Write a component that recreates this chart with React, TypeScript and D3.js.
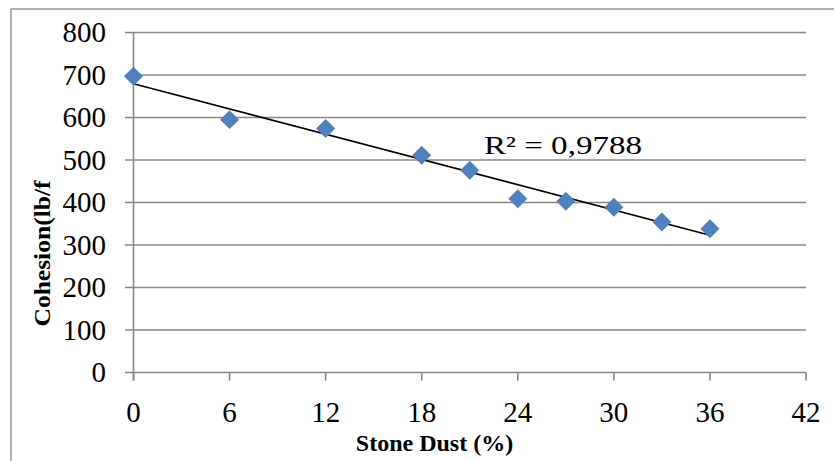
import React from "react";
import * as d3 from "d3";

const stoneDust = [0, 6, 12, 18, 21, 24, 27, 30, 33, 36];
const cohesion = [697, 595, 574, 511, 476, 409, 403, 389, 354, 338];
const xTicks = [0, 6, 12, 18, 24, 30, 36, 42];
const yTicks = [0, 100, 200, 300, 400, 500, 600, 700, 800];
const r2Label = "R² = 0,9788";

export default function App() {
  const W = 834, H = 461;
  const x = d3.scaleLinear().domain([0, 42]).range([133.5, 806]);
  const y = d3.scaleLinear().domain([0, 800]).range([372.5, 32.5]);

  const n = stoneDust.length;
  const mx = d3.mean(stoneDust)!;
  const my = d3.mean(cohesion)!;
  let sxy = 0, sxx = 0;
  for (let i = 0; i < n; i++) {
    sxy += (stoneDust[i] - mx) * (cohesion[i] - my);
    sxx += (stoneDust[i] - mx) ** 2;
  }
  const slope = sxy / sxx;
  const icpt = my - slope * mx;
  const x0 = d3.min(stoneDust)!, x1 = d3.max(stoneDust)!;
  const line = d3.line<[number, number]>().x(d => x(d[0])).y(d => y(d[1]));
  const trend = line([[x0, icpt + slope * x0], [x1, icpt + slope * x1]]) || "";

  const diamond = d3.symbol().type(d3.symbolDiamond2).size(230)() || "";
  const grid = "#878787";

  return (
    <svg width={W} height={H} style={{ position: "absolute", left: 0, top: 0, display: "block" }}
      fontFamily="'Liberation Serif', 'Times New Roman', serif">
      <rect x={0} y={0} width={W} height={H} fill="#fff" />
      <rect x={11} y={9} width={W} height={H} fill="none" stroke={grid} strokeWidth={1.3} />
      {yTicks.map(t => (
        <g key={"y" + t}>
          <line x1={125} x2={x(42)} y1={y(t)} y2={y(t)} stroke={grid} strokeWidth={1.6} />
          <text x={106} y={y(t) + 9.5} textAnchor="end" fontSize={29}>{t}</text>
        </g>
      ))}
      <line x1={x(0)} x2={x(0)} y1={y(800)} y2={y(0) + 8} stroke={grid} strokeWidth={1.6} />
      {xTicks.map(t => (
        <g key={"x" + t}>
          <line x1={x(t)} x2={x(t)} y1={y(0)} y2={y(0) + 8} stroke={grid} strokeWidth={1.6} />
          <text x={x(t)} y={421.5} textAnchor="middle" fontSize={29}>{t}</text>
        </g>
      ))}
      <path d={trend} stroke="#000" strokeWidth={1.6} fill="none" />
      {stoneDust.map((v, i) => (
        <path key={"p" + i} d={diamond} transform={`translate(${x(v)},${y(cohesion[i])})`} fill="#4F81BD" />
      ))}
      <text x={484} y={154} fontSize={25} textLength={158} lengthAdjust="spacingAndGlyphs">{r2Label}</text>
      <text x={434.5} y={450.5} textAnchor="middle" fontSize={24} fontWeight="bold">Stone Dust (%)</text>
      <text transform="translate(50,253.5) rotate(-90)" textAnchor="middle" fontSize={24} fontWeight="bold"
        textLength={146} lengthAdjust="spacingAndGlyphs">Cohesion(lb/f</text>
    </svg>
  );
}
